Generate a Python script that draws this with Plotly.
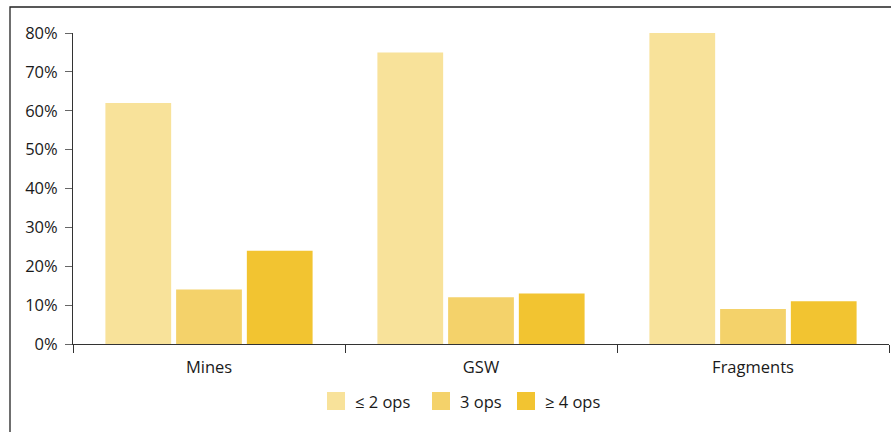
import plotly.graph_objects as go

categories = ["Mines", "GSW", "Fragments"]
series_names = ["≤ 2 ops", "3 ops", "≥ 4 ops"]
le2_ops = [62, 75, 80]
ops3 = [14, 12, 9]
ge4_ops = [24, 13, 11]
colors = ["#F8E29A", "#F4D26A", "#F2C431"]
y_ticks = [0, 10, 20, 30, 40, 50, 60, 70, 80]
y_ticktext = [f"{v}%" for v in y_ticks]

W, H = 891, 432
L, R, T, B = 73, 2, 33, 88
PW, PH = W - L - R, H - T - B


def px_x(x):
    # window pixel -> paper x
    return (x - L) / PW


def px_y(y):
    # window pixel -> paper y
    return (H - B - y) / PH


fig = go.Figure()
for name, vals, col in zip(series_names, [le2_ops, ops3, ge4_ops], colors):
    fig.add_trace(go.Bar(
        x=categories, y=vals, name=name,
        marker=dict(color=col, line=dict(width=0)),
    ))

fig.update_layout(
    width=W, height=H,
    margin=dict(l=L, r=R, t=T, b=B),
    paper_bgcolor="white", plot_bgcolor="white",
    font=dict(family="Open Sans, Noto Sans, sans-serif", size=16.5, color="#1a1a1a"),
    barmode="group", bargap=0.22, bargroupgap=0.07,
    showlegend=False,
)
fig.update_yaxes(
    range=[0, 80], tickvals=y_ticks, ticktext=y_ticktext,
    showgrid=False, zeroline=False,
    showline=True, linecolor="#333", linewidth=1,
    ticks="outside", ticklen=7, tickcolor="#666", ticklabelstandoff=4,
)
fig.update_xaxes(
    showgrid=False, showline=True, linecolor="#333", linewidth=1,
    ticks="outside", tickson="boundaries", ticklen=8, tickcolor="#333",
    ticklabelstandoff=8,
)

# manual legend with larger swatches
legend_x = [327, 432, 517]
for name, col, lx in zip(series_names, colors, legend_x):
    fig.add_shape(type="rect", xref="paper", yref="paper",
                  x0=px_x(lx), x1=px_x(lx + 18), y0=px_y(410), y1=px_y(392),
                  fillcolor=col, line=dict(width=0))
    fig.add_annotation(xref="paper", yref="paper", x=px_x(lx + 26), y=px_y(401),
                       text=name, showarrow=False, xanchor="left", yanchor="middle",
                       font=dict(size=16.5))

# frame around the figure (cropped at right and bottom)
fig.add_shape(type="rect", xref="paper", yref="paper",
              x0=px_x(10), x1=px_x(1000), y0=px_y(600), y1=px_y(7),
              line=dict(color="#222", width=1.3), layer="below")

fig.write_html("out.html", config={"displayModeBar": False},
               post_script="document.body.style.margin='0';document.body.style.overflow='hidden';")
